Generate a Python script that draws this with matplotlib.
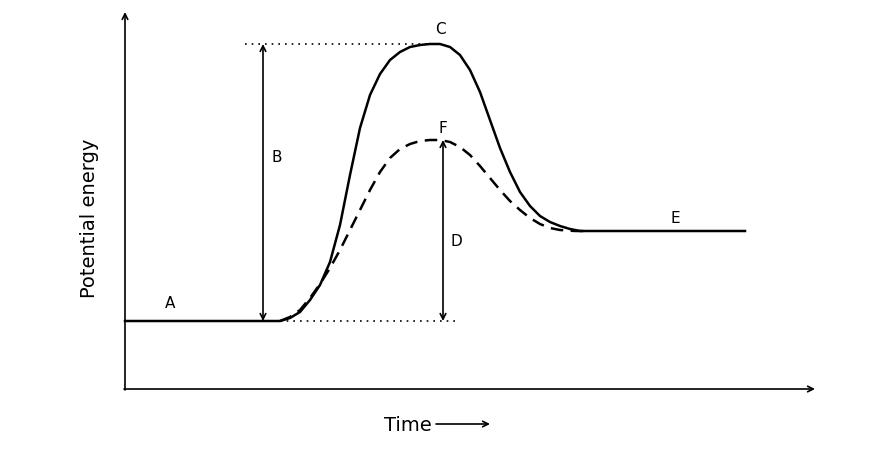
import matplotlib
matplotlib.use("Agg")
import matplotlib.pyplot as plt

# curve points (pixel coordinates, y downward)
solid_x = [125,280,290,300,310,320,330,340,350,360,370,380,390,400,410,420,430,440,450,460,470,480,490,500,510,520,530,540,550,560,570,580,590,745]
solid_y = [321,321,318,312,300,285,262,225,175,128,95,74,60,52,47,45,44,44,47,55,70,92,120,148,172,192,206,216,222,226,229,231,231,231]
dash_x = [280,290,300,310,320,330,340,350,360,370,380,390,400,410,420,430,440,450,460,470,480,490,500,510,520,530,540,550,560,575,585]
dash_y = [321,317,310,298,284,268,250,230,210,190,172,158,149,144,141,140,140,142,147,155,166,178,190,201,210,218,224,228,230,231,231]
labels = ["A", "B", "C", "D", "E", "F"]
label_x = [170, 277, 440, 456, 675, 443]
label_y = [303, 157, 30, 241, 218, 128]

fig = plt.figure(figsize=(8.78, 4.61), dpi=100)
ax = fig.add_axes([0, 0, 1, 1])
ax.set_xlim(0, 878); ax.set_ylim(461, 0); ax.axis("off")

ax.plot(solid_x, solid_y, color="black", lw=1.8)
ax.plot(dash_x, dash_y, color="black", lw=1.8, ls=(0, (5, 3)))
ax.plot([245, 432], [44, 44], color="black", lw=1.2, ls=(0, (1, 3)))
ax.plot([280, 458], [321, 321], color="black", lw=1.2, ls=(0, (1, 3)))

ap = dict(arrowstyle="<->", color="black", lw=1.2, mutation_scale=10, shrinkA=0, shrinkB=0)
ax.annotate("", xy=(263, 44), xytext=(263, 321), arrowprops=ap)
ax.annotate("", xy=(443, 140), xytext=(443, 321), arrowprops=ap)

axp = dict(arrowstyle="->", color="black", lw=1.2, mutation_scale=10, shrinkA=0, shrinkB=0)
ax.annotate("", xy=(125, 12), xytext=(125, 390), arrowprops=axp)
ax.annotate("", xy=(815, 389), xytext=(124, 389), arrowprops=axp)
ax.annotate("", xy=(490, 424), xytext=(436, 424), arrowprops=axp)

for t, x, y in zip(labels, label_x, label_y):
    ax.text(x, y, t, fontsize=11, ha="center", va="center")
ax.text(90, 218, "Potential energy", fontsize=14, rotation=90, ha="center", va="center")
ax.text(408, 425, "Time", fontsize=14, ha="center", va="center")

fig.savefig("out.png", dpi=100)
